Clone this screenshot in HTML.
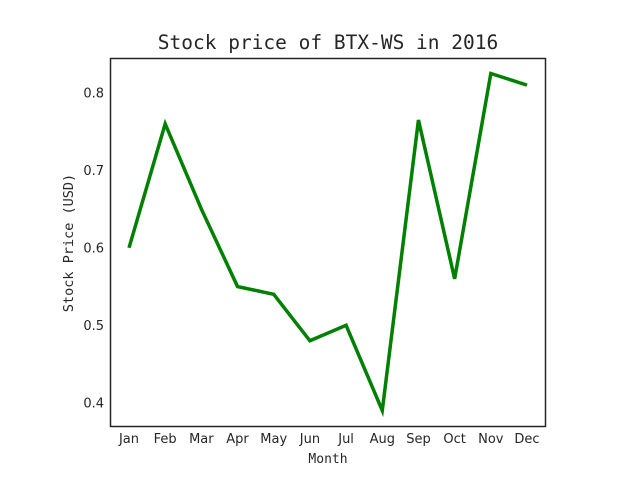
<!DOCTYPE html>
<html><head><meta charset="utf-8"><style>
body{margin:0;background:#fff}
svg text{fill:#262626}
</style></head><body>
<svg id="chart" width="640" height="480" xmlns="http://www.w3.org/2000/svg">
<rect width="640" height="480" fill="#fff"/>
<text x="328" y="49" text-anchor="middle" font-family="'DejaVu Sans Mono','Liberation Mono',monospace" font-size="19.5">Stock price of BTX-WS in 2016</text>
<text x="328" y="463" text-anchor="middle" font-family="'DejaVu Sans Mono','Liberation Mono',monospace" font-size="13">Month</text>
<text transform="translate(73,243) rotate(-90)" text-anchor="middle" font-family="'DejaVu Sans Mono','Liberation Mono',monospace" font-size="13.5">Stock Price (USD)</text>
<g id="ticks"></g>
<g id="marks"></g>
<rect x="110.5" y="58.5" width="435" height="368" fill="none" stroke="#262626" stroke-width="1.5"/>
</svg>
<script>
const months=["Jan","Feb","Mar","Apr","May","Jun","Jul","Aug","Sep","Oct","Nov","Dec"];
const prices=[0.60,0.76,0.65,0.55,0.54,0.48,0.50,0.39,0.765,0.56,0.825,0.81];
const yTicks=[0.4,0.5,0.6,0.7,0.8];
const NS="http://www.w3.org/2000/svg";
const x0=129,x1=527,yMin=0.370,yMax=0.845,plotTop=58,plotBot=426;
const xs=i=>x0+(x1-x0)*i/(months.length-1);
const ys=v=>plotBot-(v-yMin)/(yMax-yMin)*(plotBot-plotTop);
const tg=document.getElementById('ticks'),mg=document.getElementById('marks');
months.forEach((m,i)=>{
 const t=document.createElementNS(NS,'text');
 t.setAttribute('x',xs(i));t.setAttribute('y',443);t.setAttribute('text-anchor','middle');
 t.setAttribute('font-family',"'DejaVu Sans','Liberation Sans',sans-serif");t.setAttribute('font-size','13');
 t.textContent=m;
 
 
 tg.appendChild(t);
});
yTicks.forEach(v=>{
 const t=document.createElementNS(NS,'text');
 t.setAttribute('x',104);t.setAttribute('y',ys(v)+4.5);t.setAttribute('text-anchor','end');
 t.setAttribute('font-family',"'DejaVu Sans','Liberation Sans',sans-serif");t.setAttribute('font-size','13');
 t.textContent=v.toFixed(1);
 
 
 tg.appendChild(t);
});
const p=document.createElementNS(NS,'polyline');
p.setAttribute('points',prices.map((v,i)=>xs(i)+','+ys(v)).join(' '));
p.setAttribute('fill','none');p.setAttribute('stroke','#008000');p.setAttribute('stroke-width','3.5');
p.setAttribute('stroke-linejoin','miter');


mg.appendChild(p);
</script>
</body></html>
